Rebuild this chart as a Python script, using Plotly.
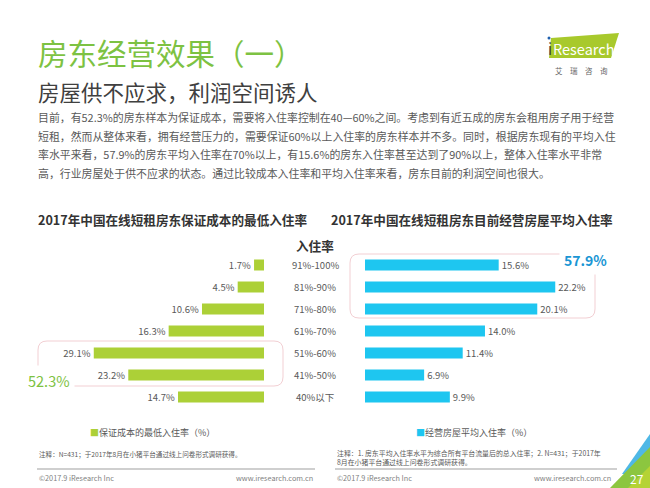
import plotly.graph_objects as go

# ---------------- data ----------------
categories = ["91%-100%", "81%-90%", "71%-80%", "61%-70%", "51%-60%", "41%-50%", "40%以下"]
min_rate_vals = [1.7, 4.5, 10.6, 16.3, 29.1, 23.2, 14.7]      # 保证成本的最低入住率
avg_rate_vals = [15.6, 22.2, 20.1, 14.0, 11.4, 6.9, 9.9]       # 经营房屋平均入住率
left_highlight = "52.3%"
right_highlight = "57.9%"

W, H = 650, 488
def X(px): return px / W
def Y(py): return 1 - py / H

FONT = "Noto Sans CJK SC, Microsoft YaHei, sans-serif"
GREEN = "#acd037"
BLUE = "#1ec6f0"
GRAY = "#595959"

fig = go.Figure()
fig.add_trace(go.Bar(
    x=min_rate_vals, y=categories, orientation="h", xaxis="x", yaxis="y",
    marker=dict(color=GREEN, line=dict(width=0)), width=0.5,
    text=min_rate_vals, texttemplate="%{x:.1f}%", textposition="outside", constraintext="none",
    textfont=dict(size=9.5, color=GRAY, family=FONT), cliponaxis=False,
    hoverinfo="skip", showlegend=False, name="保证成本的最低入住率（%）"))
fig.add_trace(go.Bar(
    x=avg_rate_vals, y=categories, orientation="h", xaxis="x2", yaxis="y2",
    marker=dict(color=BLUE, line=dict(width=0)), width=0.5,
    text=avg_rate_vals, texttemplate="%{x:.1f}%", textposition="outside", constraintext="none",
    textfont=dict(size=9.5, color=GRAY, family=FONT), cliponaxis=False,
    hoverinfo="skip", showlegend=False, name="经营房屋平均入住率（%）"))

n = len(categories)
ydom = [Y(408), Y(254)]
ax_common = dict(showgrid=False, zeroline=False, showticklabels=False, showline=False, ticks="")
fig.update_layout(
    width=W, height=H, margin=dict(l=0, r=0, t=0, b=0),
    paper_bgcolor="white", plot_bgcolor="rgba(0,0,0,0)",
    font=dict(family=FONT, color=GRAY),
    xaxis=dict(domain=[X(38), X(264)], range=[226 / 5.85, 0], **ax_common),
    yaxis=dict(domain=ydom, type="category", categoryorder="array", categoryarray=categories,
               range=[n - 0.5, -0.5], **ax_common),
    xaxis2=dict(domain=[X(365), X(620)], range=[0, 255 / 8.57], anchor="y2", **ax_common),
    yaxis2=dict(domain=ydom, type="category", categoryorder="array", categoryarray=categories,
                range=[n - 0.5, -0.5], anchor="x2", **ax_common),
    bargap=0.5,
)

ann = []
def txt(x, y, s, size, color=GRAY, anchor="left", bold=False, yanchor="middle", **kw):
    if bold:
        s = "<b>" + s + "</b>"
    ann.append(dict(x=X(x), y=Y(y), xref="paper", yref="paper", text=s, showarrow=False,
                    xanchor=anchor, yanchor=yanchor,
                    font=dict(size=size, color=color, family=FONT), **kw))

# Titles
txt(36, 52, "房东经营效果（一）", 29.5, color="#7dc242")
txt(36, 91, "房屋供不应求，利润空间诱人", 21.5, color="#404040")
body = [
    "目前，有52.3%的房东样本为保证成本，需要将入住率控制在40—60%之间。考虑到有近五成的房东会租用房子用于经营",
    "短租，然而从整体来看，拥有经营压力的，需要保证60%以上入住率的房东样本并不多。同时，根据房东现有的平均入住",
    "率水平来看，57.9%的房东平均入住率在70%以上，有15.6%的房东入住率甚至达到了90%以上，整体入住率水平非常",
    "高，行业房屋处于供不应求的状态。通过比较成本入住率和平均入住率来看，房东目前的利润空间也很大。",
]
for i, line in enumerate(body):
    txt(36, 117 + i * 18.7, line, 10.9)

# Chart titles
txt(173, 219, "2017年中国在线短租房东保证成本的最低入住率", 12.6, color="#333333", anchor="center", bold=True)
txt(472, 219, "2017年中国在线短租房东目前经营房屋平均入住率", 12.6, color="#333333", anchor="center", bold=True)
txt(315, 246, "入住率", 12.6, color="#333333", anchor="center", bold=True)

# Middle category labels
for c in categories:
    ann.append(dict(x=X(315), y=c, xref="paper", yref="y", text=c, showarrow=False,
                    xanchor="center", yanchor="middle",
                    font=dict(size=9.5, color=GRAY, family=FONT)))

# Highlight boxes
def rrect(x0, y0, x1, y1, r=9):
    a0, b0, a1, b1 = X(x0), Y(y0), X(x1), Y(y1)
    rx, ry = r / W, r / H
    return (f"M {a0+rx},{b0} L {a1-rx},{b0} Q {a1},{b0} {a1},{b0-ry} "
            f"L {a1},{b1+ry} Q {a1},{b1} {a1-rx},{b1} L {a0+rx},{b1} "
            f"Q {a0},{b1} {a0},{b1+ry} L {a0},{b0-ry} Q {a0},{b0} {a0+rx},{b0} Z")
shapes = [
    dict(type="path", xref="paper", yref="paper", path=rrect(38, 341, 283, 386),
         line=dict(color="#f2cfd3", width=1), layer="below"),
    dict(type="path", xref="paper", yref="paper", path=rrect(350, 254, 595, 318),
         line=dict(color="#f2cfd3", width=1), layer="below"),
]
txt(49, 380, left_highlight, 14.5, color="#7dc242", anchor="center", bgcolor="white", borderpad=4)
txt(585, 260, right_highlight, 14, color="#1a96d4", anchor="center", bold=True, bgcolor="white", borderpad=4)

# Legends
txt(88, 432, f"<span style='color:{GREEN}'>■</span>保证成本的最低入住率（%）", 9)
txt(414, 432, f"<span style='color:{BLUE}'>■</span>经营房屋平均入住率（%）", 9)

# Notes
txt(37, 454, "注释：N=431；于2017年8月在小猪平台通过线上问卷形式调研获得。", 6.6)
txt(335, 453, "注释：1. 房东平均入住率水平为综合所有平台流量后的总入住率；2. N=431；于2017年", 6.9)
txt(335, 462, "8月在小猪平台通过线上问卷形式调研获得。", 6.9)
shapes += [
    dict(type="line", xref="paper", yref="paper", x0=X(37), x1=X(315), y0=Y(469), y1=Y(469),
         line=dict(color="#bfbfbf", width=1.5)),
    dict(type="line", xref="paper", yref="paper", x0=X(335), x1=X(617), y0=Y(469), y1=Y(469),
         line=dict(color="#bfbfbf", width=1.5)),
]
# Footer
txt(37, 478, "©2017.9 iResearch Inc", 7.3, color="#7f7f7f")
txt(315, 478, "www.iresearch.com.cn", 7.3, color="#7f7f7f", anchor="right")
txt(335, 478, "©2017.9 iResearch Inc", 7.3, color="#7f7f7f")
txt(613, 478, "www.iresearch.com.cn", 7.3, color="#7f7f7f", anchor="right")

# Corner decoration
def poly(pts):
    return "M " + " L ".join(f"{X(a)},{Y(b)}" for a, b in pts) + " Z"
shapes += [
    dict(type="path", xref="paper", yref="paper", path=poly([(622, 474), (650, 434), (650, 474)]),
         fillcolor="#4fb8e6", line=dict(width=0)),
    dict(type="path", xref="paper", yref="paper", path=poly([(610, 488), (650, 447), (650, 488)]),
         fillcolor="#8cc63f", line=dict(width=0)),
    dict(type="path", xref="paper", yref="paper", path=poly([(628, 488), (650, 466), (650, 488)]),
         fillcolor="#b5d334", line=dict(width=0)),
]
txt(637, 478, "27", 12, color="white", anchor="center")

# Logo
shapes.append(dict(type="path", xref="paper", yref="paper",
                   path=poly([(551, 38), (619, 33), (611, 58), (549, 58)]),
                   fillcolor="#a8c92c", line=dict(width=0)))
txt(546, 48, "i", 15, color="#404040")
shapes.append(dict(type="circle", xref="paper", yref="paper",
                   x0=X(547.5), x1=X(550.5), y0=Y(39.5), y1=Y(36.5),
                   fillcolor="#1f5fae", line=dict(width=0)))
txt(551, 48, "Research", 14.5, color="white")
txt(581, 70, "艾　瑞　咨　询", 7.5, color="#666666", anchor="center")

fig.update_layout(annotations=ann, shapes=shapes)
fig.write_html("out.html", config={"displayModeBar": False, "staticPlot": True},
               post_script="document.body.style.margin='0';document.body.style.padding='0';"
                           "document.body.style.overflow='hidden';")
